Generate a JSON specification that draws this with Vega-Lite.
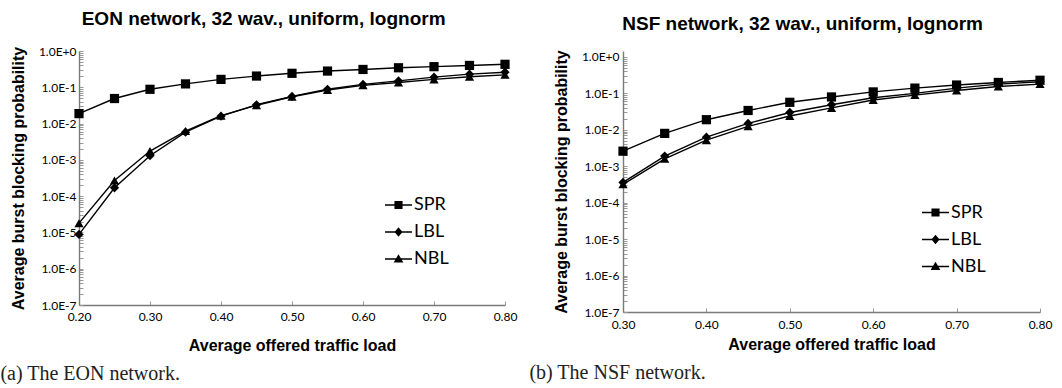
{
  "$schema": "https://vega.github.io/schema/vega-lite/v6.json",
  "padding": {"left": 0, "top": 10, "right": 4, "bottom": 0},
  "background": "white",
  "datasets": {
    "eon": [
      {"load": 0.20, "series": "SPR", "p": 0.0188},
      {"load": 0.25, "series": "SPR", "p": 0.049},
      {"load": 0.30, "series": "SPR", "p": 0.088},
      {"load": 0.35, "series": "SPR", "p": 0.124},
      {"load": 0.40, "series": "SPR", "p": 0.165},
      {"load": 0.45, "series": "SPR", "p": 0.204},
      {"load": 0.50, "series": "SPR", "p": 0.243},
      {"load": 0.55, "series": "SPR", "p": 0.28},
      {"load": 0.60, "series": "SPR", "p": 0.31},
      {"load": 0.65, "series": "SPR", "p": 0.345},
      {"load": 0.70, "series": "SPR", "p": 0.37},
      {"load": 0.75, "series": "SPR", "p": 0.40},
      {"load": 0.80, "series": "SPR", "p": 0.43},
      {"load": 0.20, "series": "LBL", "p": 0.0000088},
      {"load": 0.25, "series": "LBL", "p": 0.00017},
      {"load": 0.30, "series": "LBL", "p": 0.0013},
      {"load": 0.35, "series": "LBL", "p": 0.0058},
      {"load": 0.40, "series": "LBL", "p": 0.016},
      {"load": 0.45, "series": "LBL", "p": 0.033},
      {"load": 0.50, "series": "LBL", "p": 0.056},
      {"load": 0.55, "series": "LBL", "p": 0.088},
      {"load": 0.60, "series": "LBL", "p": 0.12},
      {"load": 0.65, "series": "LBL", "p": 0.15},
      {"load": 0.70, "series": "LBL", "p": 0.19},
      {"load": 0.75, "series": "LBL", "p": 0.23},
      {"load": 0.80, "series": "LBL", "p": 0.26},
      {"load": 0.20, "series": "NBL", "p": 0.000018},
      {"load": 0.25, "series": "NBL", "p": 0.00027},
      {"load": 0.30, "series": "NBL", "p": 0.00175},
      {"load": 0.35, "series": "NBL", "p": 0.0062},
      {"load": 0.40, "series": "NBL", "p": 0.0165},
      {"load": 0.45, "series": "NBL", "p": 0.032},
      {"load": 0.50, "series": "NBL", "p": 0.055},
      {"load": 0.55, "series": "NBL", "p": 0.084},
      {"load": 0.60, "series": "NBL", "p": 0.113},
      {"load": 0.65, "series": "NBL", "p": 0.135},
      {"load": 0.70, "series": "NBL", "p": 0.165},
      {"load": 0.75, "series": "NBL", "p": 0.195},
      {"load": 0.80, "series": "NBL", "p": 0.22}
    ],
    "nsf": [
      {"load": 0.30, "series": "SPR", "p": 0.0026},
      {"load": 0.35, "series": "SPR", "p": 0.008},
      {"load": 0.40, "series": "SPR", "p": 0.019},
      {"load": 0.45, "series": "SPR", "p": 0.034},
      {"load": 0.50, "series": "SPR", "p": 0.057},
      {"load": 0.55, "series": "SPR", "p": 0.08},
      {"load": 0.60, "series": "SPR", "p": 0.11},
      {"load": 0.65, "series": "SPR", "p": 0.14},
      {"load": 0.70, "series": "SPR", "p": 0.17},
      {"load": 0.75, "series": "SPR", "p": 0.20},
      {"load": 0.80, "series": "SPR", "p": 0.23},
      {"load": 0.30, "series": "LBL", "p": 0.00036},
      {"load": 0.35, "series": "LBL", "p": 0.0019},
      {"load": 0.40, "series": "LBL", "p": 0.0063},
      {"load": 0.45, "series": "LBL", "p": 0.015},
      {"load": 0.50, "series": "LBL", "p": 0.030},
      {"load": 0.55, "series": "LBL", "p": 0.049},
      {"load": 0.60, "series": "LBL", "p": 0.076},
      {"load": 0.65, "series": "LBL", "p": 0.10},
      {"load": 0.70, "series": "LBL", "p": 0.14},
      {"load": 0.75, "series": "LBL", "p": 0.18},
      {"load": 0.80, "series": "LBL", "p": 0.21},
      {"load": 0.30, "series": "NBL", "p": 0.00032},
      {"load": 0.35, "series": "NBL", "p": 0.0016},
      {"load": 0.40, "series": "NBL", "p": 0.0052},
      {"load": 0.45, "series": "NBL", "p": 0.0125},
      {"load": 0.50, "series": "NBL", "p": 0.024},
      {"load": 0.55, "series": "NBL", "p": 0.040},
      {"load": 0.60, "series": "NBL", "p": 0.066},
      {"load": 0.65, "series": "NBL", "p": 0.09},
      {"load": 0.70, "series": "NBL", "p": 0.12},
      {"load": 0.75, "series": "NBL", "p": 0.155},
      {"load": 0.80, "series": "NBL", "p": 0.18}
    ]
  },
  "hconcat": [
    {
      "title": {"text": "(a) The EON network.", "orient": "bottom", "anchor": "start", "frame": "bounds", "font": "Liberation Serif", "fontSize": 20, "fontWeight": "normal", "color": "#222222", "offset": 11, "dx": -10},
      "vconcat": [
        {
          "title": {"text": "EON network, 32 wav., uniform, lognorm", "offset": 16, "frame": "bounds"},
          "width": 426,
          "height": 254,
          "data": {"name": "eon"},
          "encoding": {
            "x": {"field": "load", "type": "quantitative", "scale": {"domain": [0.2, 0.8], "nice": false, "zero": false},
                  "axis": {"title": "Average offered traffic load", "values": [0.2, 0.3, 0.4, 0.5, 0.6, 0.7, 0.8], "format": ".2f", "labelPadding": 10, "titlePadding": 15}},
            "y": {"field": "p", "type": "quantitative", "scale": {"type": "log", "domain": [1e-7, 1], "nice": false},
                  "axis": {"title": "Average burst blocking probability",
                           "values": [1e-7,2e-7,3e-7,4e-7,5e-7,6e-7,7e-7,8e-7,9e-7,1e-6,2e-6,3e-6,4e-6,5e-6,6e-6,7e-6,8e-6,9e-6,1e-5,2e-5,3e-5,4e-5,5e-5,6e-5,7e-5,8e-5,9e-5,1e-4,2e-4,3e-4,4e-4,5e-4,6e-4,7e-4,8e-4,9e-4,1e-3,2e-3,3e-3,4e-3,5e-3,6e-3,7e-3,8e-3,9e-3,1e-2,2e-2,3e-2,4e-2,5e-2,6e-2,7e-2,8e-2,9e-2,1e-1,2e-1,3e-1,4e-1,5e-1,6e-1,7e-1,8e-1,9e-1,1],
                           "labelExpr": "abs(log(datum.value)/LN10 - round(log(datum.value)/LN10)) < 0.01 ? ('1.0E' + (datum.value > 0.5 ? '+0' : toString(round(log(datum.value)/LN10)))) : ''",
                           "labelPadding": 7, "titlePadding": 12}}
          },
          "layer": [
            {"mark": {"type": "line", "color": "black", "strokeWidth": 1.4}, "encoding": {"detail": {"field": "series"}}},
            {"mark": {"type": "point", "filled": true, "color": "black", "opacity": 1, "size": 85},
             "encoding": {"shape": {"field": "series", "scale": {"domain": ["SPR", "LBL", "NBL"], "range": ["square", "diamond", "triangle-up"]}, "legend": null}}},
            {"mark": {"type": "point", "filled": true, "color": "black", "opacity": 0},
             "encoding": {"shape": {"field": "series", "scale": {"domain": ["SPR", "LBL", "NBL"], "range": ["M-1,-0.05H1V0.05H-1ZM-0.3,-0.3H0.3V0.3H-0.3Z", "M-1,-0.05H1V0.05H-1ZM0,-0.36L0.3,0L0,0.36L-0.3,0Z", "M-1,-0.05H1V0.05H-1ZM0,-0.36L0.36,0.26H-0.36Z"]},
                          "legend": {"title": null, "orient": "none", "legendX": 305, "legendY": 139.5, "symbolSize": 729, "symbolOpacity": 1, "symbolFillColor": "black", "labelFont": "Lato", "labelFontSize": 18, "labelColor": "black", "labelOffset": 1, "rowPadding": 3, "padding": 0}}}}
          ],
          "resolve": {"scale": {"shape": "independent"}, "legend": {"shape": "independent"}}
        }
      ]
    },
    {
      "title": {"text": "(b) The NSF network.", "orient": "bottom", "anchor": "start", "frame": "bounds", "font": "Liberation Serif", "fontSize": 20, "fontWeight": "normal", "color": "#222222", "offset": 11, "dx": -24},
      "vconcat": [
        {
          "title": {"text": "NSF network, 32 wav., uniform, lognorm", "offset": 16, "frame": "bounds"},
          "width": 417,
          "height": 261,
          "data": {"name": "nsf"},
          "encoding": {
            "x": {"field": "load", "type": "quantitative", "scale": {"domain": [0.3, 0.8], "nice": false, "zero": false},
                  "axis": {"title": "Average offered traffic load", "values": [0.3, 0.4, 0.5, 0.6, 0.7, 0.8], "format": ".2f", "labelPadding": 11, "titlePadding": 6}},
            "y": {"field": "p", "type": "quantitative", "scale": {"type": "log", "domain": [1e-7, 1.46], "nice": false},
                  "axis": {"title": "Average burst blocking probability",
                           "values": [1e-7,2e-7,3e-7,4e-7,5e-7,6e-7,7e-7,8e-7,9e-7,1e-6,2e-6,3e-6,4e-6,5e-6,6e-6,7e-6,8e-6,9e-6,1e-5,2e-5,3e-5,4e-5,5e-5,6e-5,7e-5,8e-5,9e-5,1e-4,2e-4,3e-4,4e-4,5e-4,6e-4,7e-4,8e-4,9e-4,1e-3,2e-3,3e-3,4e-3,5e-3,6e-3,7e-3,8e-3,9e-3,1e-2,2e-2,3e-2,4e-2,5e-2,6e-2,7e-2,8e-2,9e-2,1e-1,2e-1,3e-1,4e-1,5e-1,6e-1,7e-1,8e-1,9e-1,1],
                           "labelExpr": "abs(log(datum.value)/LN10 - round(log(datum.value)/LN10)) < 0.01 ? ('1.0E' + (datum.value > 0.5 ? '+0' : toString(round(log(datum.value)/LN10)))) : ''",
                           "labelPadding": 8, "titlePadding": 12}}
          },
          "layer": [
            {"mark": {"type": "line", "color": "black", "strokeWidth": 1.4}, "encoding": {"detail": {"field": "series"}}},
            {"mark": {"type": "point", "filled": true, "color": "black", "opacity": 1, "size": 85},
             "encoding": {"shape": {"field": "series", "scale": {"domain": ["SPR", "LBL", "NBL"], "range": ["square", "diamond", "triangle-up"]}, "legend": null}}},
            {"mark": {"type": "point", "filled": true, "color": "black", "opacity": 0},
             "encoding": {"shape": {"field": "series", "scale": {"domain": ["SPR", "LBL", "NBL"], "range": ["M-1,-0.05H1V0.05H-1ZM-0.3,-0.3H0.3V0.3H-0.3Z", "M-1,-0.05H1V0.05H-1ZM0,-0.36L0.3,0L0,0.36L-0.3,0Z", "M-1,-0.05H1V0.05H-1ZM0,-0.36L0.36,0.26H-0.36Z"]},
                          "legend": {"title": null, "orient": "none", "legendX": 298, "legendY": 147, "symbolSize": 729, "symbolOpacity": 1, "symbolFillColor": "black", "labelFont": "Lato", "labelFontSize": 18, "labelColor": "black", "labelOffset": 1, "rowPadding": 3, "padding": 0}}}}
          ],
          "resolve": {"scale": {"shape": "independent"}, "legend": {"shape": "independent"}}
        }
      ]
    }
  ],
  "spacing": 12,
  "config": {
    "view": {"stroke": null},
    "title": {"font": "Liberation Sans", "fontSize": 19, "fontWeight": "bold", "color": "black", "anchor": "middle"},
    "axis": {
      "domain": true, "domainColor": "#7a7a7a", "domainWidth": 1.4,
      "ticks": true, "tickColor": "#999999", "tickSize": -4, "tickWidth": 1,
      "grid": false, "labelFlush": false,
      "labelFont": "Lato", "labelFontSize": 12, "labelColor": "black", "labelOverlap": false,
      "titleFont": "Liberation Sans", "titleFontSize": 16, "titleFontWeight": "bold", "titleColor": "black"
    }
  }
}
